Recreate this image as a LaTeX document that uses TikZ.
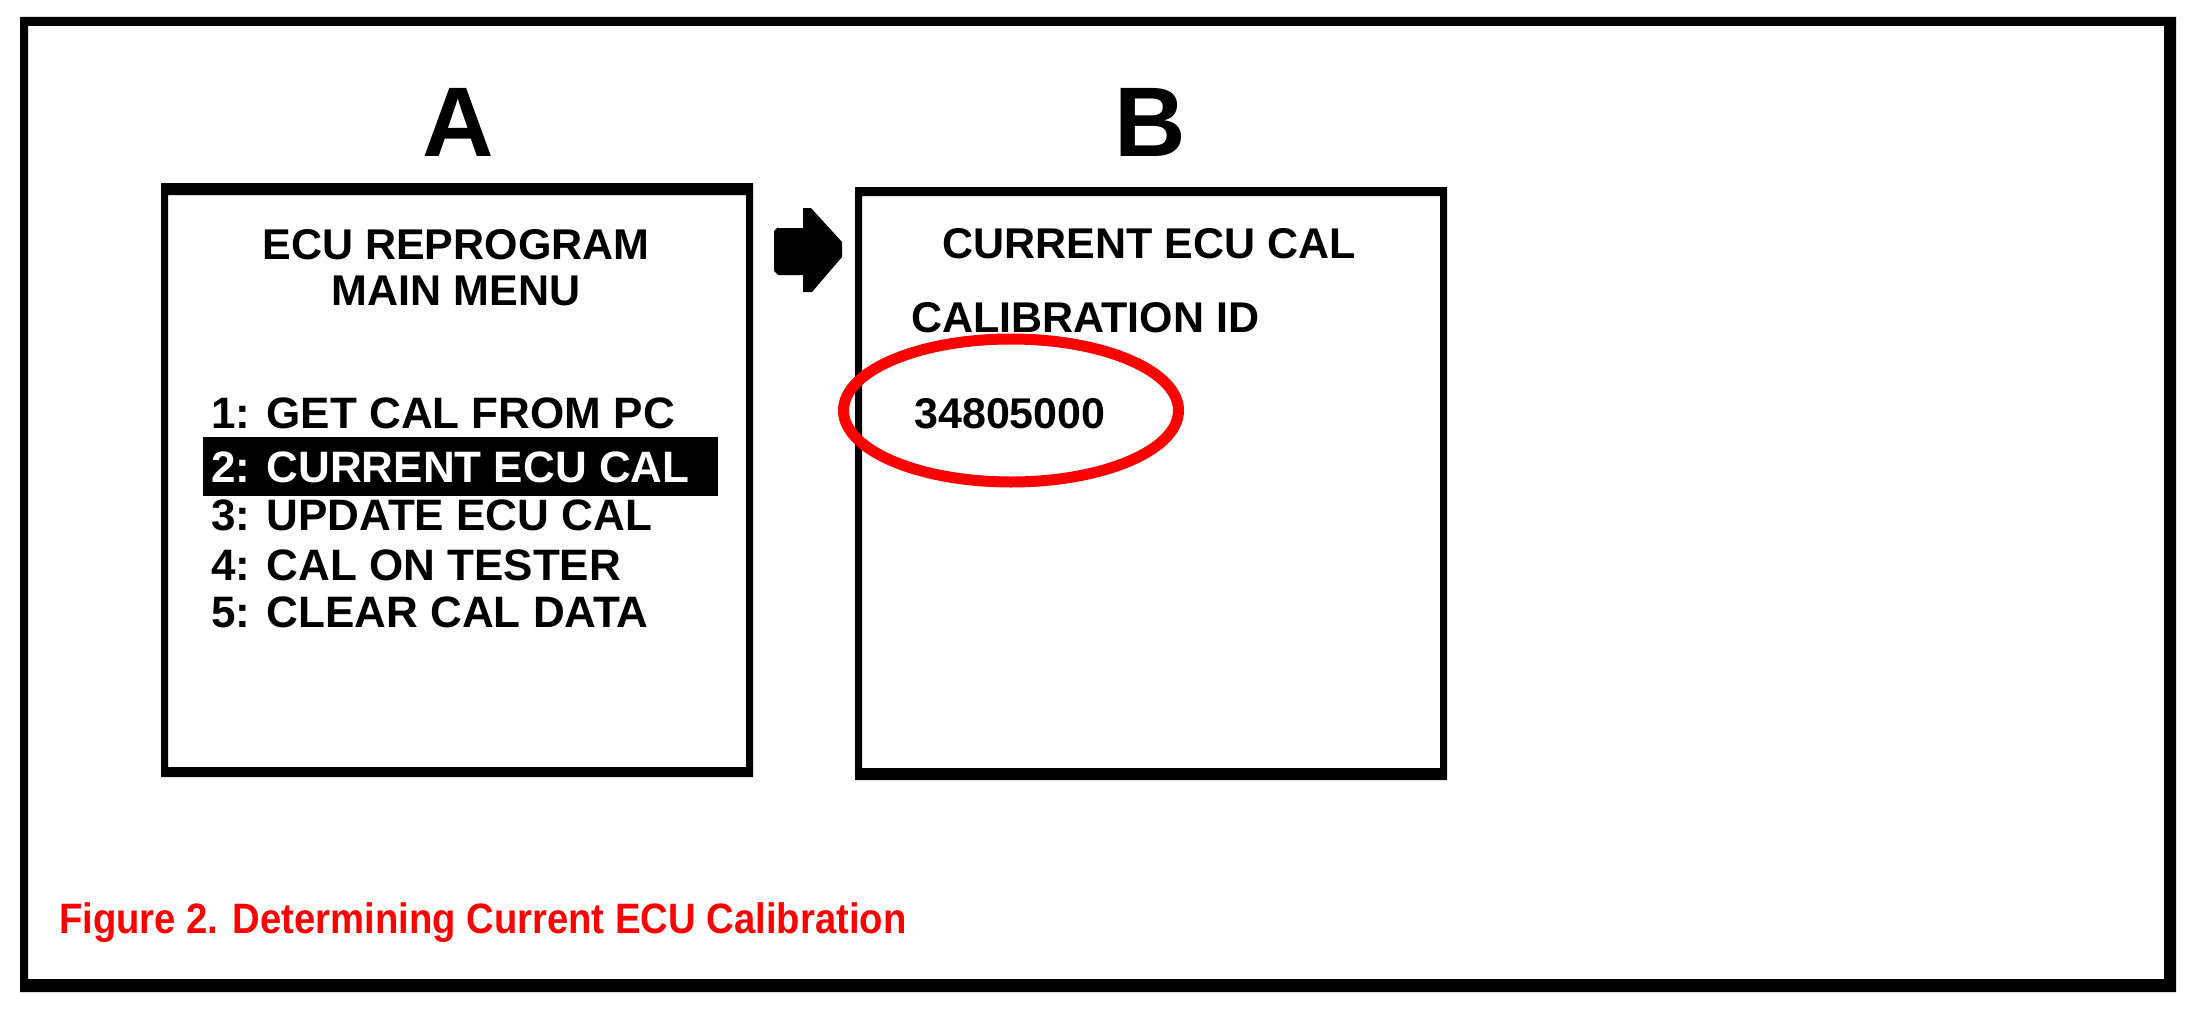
\documentclass[tikz,border=0pt]{standalone}
\usepackage{fontspec}
\setmainfont{Liberation Sans}
\newfontfamily\capfont[FakeStretch=0.9]{Liberation Sans}
\usetikzlibrary{shapes.geometric}
\definecolor{capred}{RGB}{255,0,0}
\tikzset{
  screen/.style={minimum width=592pt, minimum height=594pt, inner sep=0pt},
  frameline/.style={fill=black, even odd rule},
  bigletter/.style={font=\fontsize{99}{110}\selectfont\bfseries, inner sep=0pt, anchor=base},
  txt/.style={font=\fontsize{43}{50}\selectfont\bfseries, inner sep=0pt},
  ctxt/.style={txt, anchor=base},
  itemtxt/.style={font=\fontsize{44}{50}\selectfont\bfseries, inner sep=0pt, anchor=base west},
}
\begin{document}
\begin{tikzpicture}[x=1pt,y=-1pt]
\useasboundingbox (0,0) rectangle (2202,1014);
\fill[white] (0,0) rectangle (2202,1014);
% outer frame
\path[frameline] (20,17) rectangle (2176,992) (28,26) rectangle (2164,979);
% screens
\node[screen] (boxA) at (457,480) {};
\node[screen] (boxB) at (1151,483.5) {};
\path[frameline] (161,183) rectangle (753,777) (168,195) rectangle (746,767);
\path[frameline] (855,187) rectangle (1447,780) (862,196) rectangle (1440,768);
% letters
\node[bigletter] (labA) at (458,157) {A};
\node[bigletter] (labB) at (1150,157) {B};
% arrow between screens
\fill (777,228) -- (803,228) -- (803,208) -- (811,208)
  -- (842,242) -- (842,257) -- (812,292) -- (803,292)
  -- (803,275) -- (778,275) -- (774,271) -- (774,231) -- cycle;
% screen A
\node[ctxt] (tA1) at (456,259) {ECU REPROGRAM};
\node[ctxt] (tA2) at (456,305) {MAIN MENU};
\node[itemtxt] (i1) at (211,428) {1: GET CAL FROM PC};
\fill (203,437) rectangle (718,496);
\node[itemtxt, text=white] (i2) at (211,482) {2: CURRENT ECU CAL};
\node[itemtxt] (i3) at (211,530) {3: UPDATE ECU CAL};
\node[itemtxt] (i4) at (211,580) {4: CAL ON TESTER};
\node[itemtxt] (i5) at (211,627) {5: CLEAR CAL DATA};
% screen B
\node[ctxt] (tB1) at (1149,258) {CURRENT ECU CAL};
\node[itemtxt, font=\fontsize{43}{50}\selectfont\bfseries] (tB2) at (911,332) {CALIBRATION ID};
\node[ctxt] (num) at (1010,428) {34805000};
\node[ellipse, draw=capred, line width=11pt, minimum width=335pt, minimum height=143pt, inner sep=0pt] (ring) at (1011,410.5) {};
% caption
\node[anchor=base west, inner sep=0pt, text=capred, font=\capfont\fontsize{42.5}{50}\selectfont\bfseries] (cap) at (59,933) {Figure 2. Determining Current ECU Calibration};
\end{tikzpicture}
\end{document}
